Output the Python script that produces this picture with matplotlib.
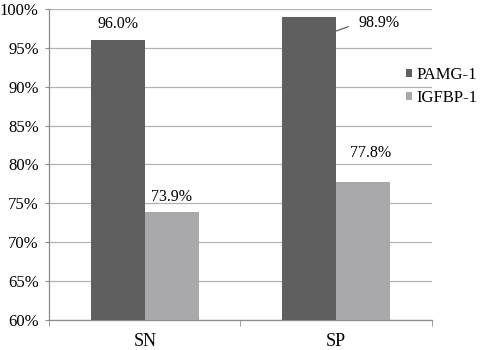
import matplotlib.pyplot as plt
import numpy as np
from matplotlib.ticker import FuncFormatter

# data
categories = ["SN", "SP"]
series_names = ["PAMG-1", "IGFBP-1"]
pamg_values = [96.0, 98.9]
igfbp_values = [73.9, 77.8]
y_ticks = [60, 65, 70, 75, 80, 85, 90, 95, 100]

# style
COLORS = ["#5f5f5f", "#a9a9ab"]
GRID_COLOR = "#b3b3b3"
BAR_WIDTH = 0.282
# label offsets in pixels from the bar top (dx, dy); None means leader line
LABEL_OFFSETS = [
    [(0, 16), None],
    [(0, 15), (7, 29)],
]

plt.rcParams.update(
    {
        "font.family": ["Liberation Serif", "DejaVu Serif"],
        "font.size": 12,
    }
)

fig = plt.figure(figsize=(4.81, 3.5), dpi=100)
ax = fig.add_axes([0.102, 0.0857, 0.796, 0.889])

x = np.arange(len(categories))
series = [pamg_values, igfbp_values]

for i, (name, values) in enumerate(zip(series_names, series)):
    offset = (i - 0.5) * BAR_WIDTH
    ax.bar(
        x + offset,
        values,
        width=BAR_WIDTH,
        color=COLORS[i],
        label=name,
        zorder=3,
    )
    for j, v in enumerate(values):
        off = LABEL_OFFSETS[i][j]
        if off is None:
            # label pulled to the right with a short leader line
            ax.annotate(
                f"{v:.1f}%",
                xy=(x[j] + offset + BAR_WIDTH / 2, v - 1.75),
                xytext=(22, 8),
                textcoords="offset pixels",
                ha="left",
                va="center",
                fontsize=11.5,
                arrowprops=dict(arrowstyle="-", color="#5f5f5f", lw=0.9,
                                relpos=(0, 0.5), shrinkA=5.5, shrinkB=0),
                zorder=4,
            )
        else:
            ax.annotate(
                f"{v:.1f}%",
                xy=(x[j] + offset, v),
                xytext=off,
                textcoords="offset pixels",
                ha="center",
                va="center",
                fontsize=11.5,
                zorder=4,
            )

ax.set_xlim(-0.5, len(categories) - 0.5)
ax.set_ylim(60, 100)
ax.set_yticks(y_ticks)
ax.yaxis.set_major_formatter(FuncFormatter(lambda v, _: f"{v:.0f}%"))
ax.set_xticks(x)
ax.set_xticklabels(categories)
ax.set_xticks([-0.5, 0.5, 1.5], minor=True)

ax.grid(axis="y", color=GRID_COLOR, linewidth=0.9, zorder=0)
for side in ["top", "right"]:
    ax.spines[side].set_visible(False)
for side in ["left", "bottom"]:
    ax.spines[side].set_color("#8c8c8c")
    ax.spines[side].set_linewidth(0.9)

ax.tick_params(axis="y", length=3, color="#8c8c8c", labelsize=12, pad=4.5)
ax.tick_params(axis="x", which="major", length=0, labelsize=13, pad=9)
ax.tick_params(axis="x", which="minor", length=4, color="#8c8c8c")

ax.legend(
    loc="center left",
    bbox_to_anchor=(406 / 481, 1 - 86.5 / 350),
    bbox_transform=fig.transFigure,
    frameon=False,
    borderpad=0,
    borderaxespad=0,
    handlelength=0.35,
    handleheight=0.35,
    handletextpad=0.3,
    labelspacing=0.38,
    fontsize=12,
)

fig.savefig("out.png", dpi=100)
